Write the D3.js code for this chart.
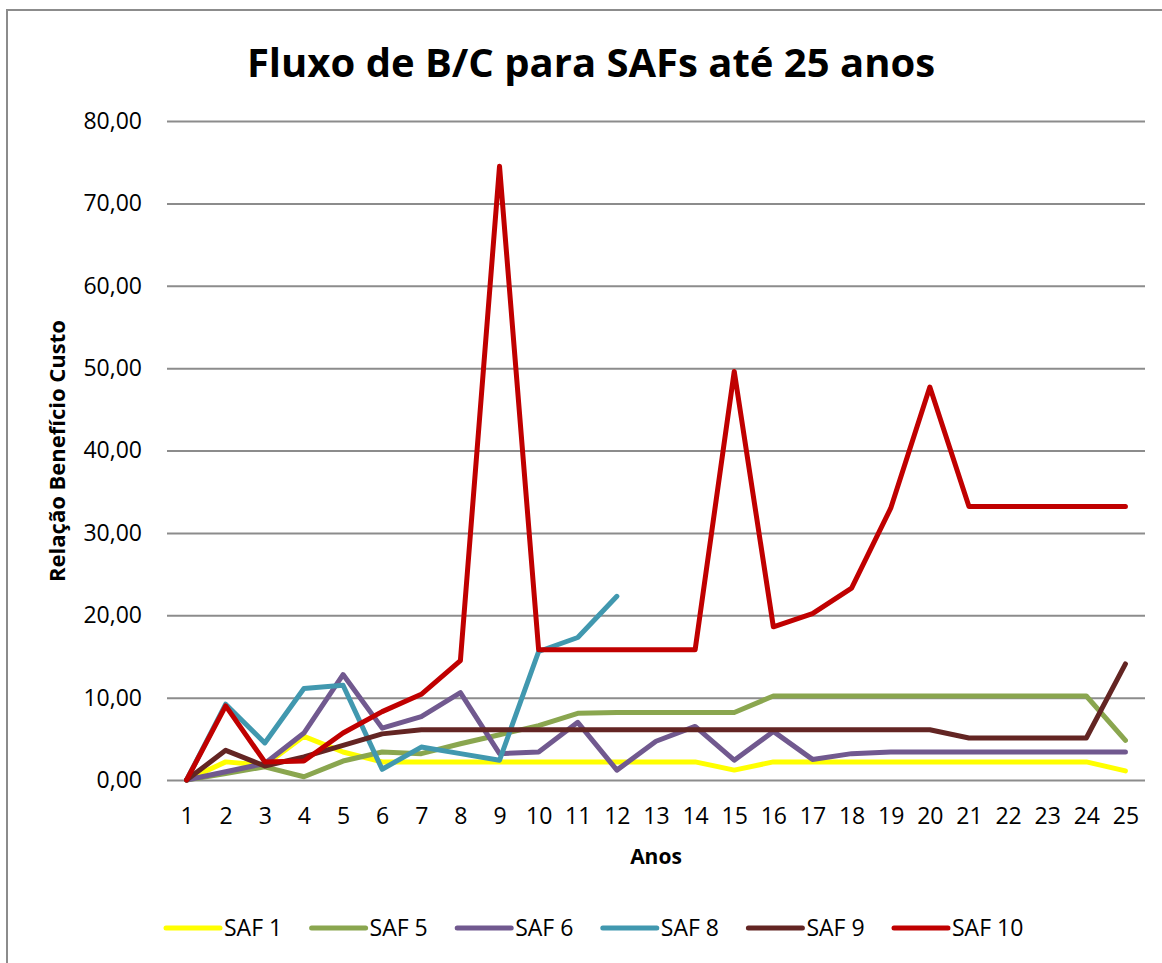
<!DOCTYPE html>
<html>
<head>
<meta charset="utf-8">
<script src="https://cdnjs.cloudflare.com/ajax/libs/d3/7.8.5/d3.min.js"></script>
<style>
  body { margin: 0; background: #fff; }
  text { font-family: "Open Sans", sans-serif; fill: #000; }
</style>
</head>
<body>
<div id="chart"></div>
<script>
// data
var anos = d3.range(1, 26);
var seriesNames = ["SAF 1", "SAF 5", "SAF 6", "SAF 8", "SAF 9", "SAF 10"];
var saf1 = [0, 2.2, 1.8, 5.3, 3.4, 2.2, 2.2, 2.2, 2.2, 2.2, 2.2, 2.2, 2.2, 2.2, 1.2, 2.2, 2.2, 2.2, 2.2, 2.2, 2.2, 2.2, 2.2, 2.2, 1.1];
var saf5 = [0, 0.8, 1.6, 0.4, 2.3, 3.4, 3.2, 4.4, 5.5, 6.6, 8.1, 8.2, 8.2, 8.2, 8.2, 10.2, 10.2, 10.2, 10.2, 10.2, 10.2, 10.2, 10.2, 10.2, 4.8];
var saf6 = [0, 1.0, 2.0, 5.7, 12.8, 6.3, 7.7, 10.6, 3.2, 3.4, 7.0, 1.2, 4.7, 6.5, 2.4, 5.9, 2.5, 3.2, 3.4, 3.4, 3.4, 3.4, 3.4, 3.4, 3.4];
var saf8 = [0, 9.2, 4.5, 11.1, 11.5, 1.3, 4.0, 3.2, 2.4, 15.6, 17.3, 22.3, null, null, null, null, null, null, null, null, null, null, null, null, null];
var saf9 = [0, 3.6, 1.7, 2.8, 4.2, 5.6, 6.1, 6.1, 6.1, 6.1, 6.1, 6.1, 6.1, 6.1, 6.1, 6.1, 6.1, 6.1, 6.1, 6.1, 5.1, 5.1, 5.1, 5.1, 14.1];
var saf10 = [0, 9.0, 2.2, 2.3, 5.7, 8.3, 10.4, 14.5, 74.5, 15.8, 15.8, 15.8, 15.8, 15.8, 49.6, 18.6, 20.2, 23.3, 33.0, 47.7, 33.2, 33.2, 33.2, 33.2, 33.2];
var yTicks = [0, 10, 20, 30, 40, 50, 60, 70, 80];

var seriesValues = [saf1, saf5, saf6, saf8, saf9, saf10];
var colors = ["#FFFF00", "#8AA64F", "#71598F", "#4198AF", "#632523", "#C00000"];

//svg container
var svgWidth = 1162;
var svgHeight = 963;

//plot area
var plot = { left: 167, right: 1145, top: 121, bottom: 780 };

var svg = d3.select("#chart")
  .append("svg")
  .attr("width", svgWidth)
  .attr("height", svgHeight);

//chart border (only left and top visible in the picture)
svg.append("rect")
  .attr("x", 7)
  .attr("y", 10)
  .attr("width", 1200)
  .attr("height", 1000)
  .attr("fill", "none")
  .attr("stroke", "#8c8c8c")
  .attr("stroke-width", 2);

//scales
var xScale = d3.scalePoint()
  .domain(anos)
  .range([plot.left, plot.right])
  .padding(0.5);

var yScale = d3.scaleLinear()
  .domain([0, 80])
  .range([plot.bottom, plot.top]);

var ptBR = d3.formatLocale({ decimal: ",", thousands: ".", grouping: [3], currency: ["R$", ""] });
var fmt = ptBR.format(".2f");

//gridlines + y labels
var leftAxis = d3.axisLeft(yScale)
  .tickValues(yTicks)
  .tickSize(-(plot.right - plot.left))
  .tickPadding(25)
  .tickFormat(fmt);

var yAxisG = svg.append("g")
  .attr("transform", `translate(${plot.left}, 0)`)
  .call(leftAxis);

yAxisG.select(".domain").remove();
yAxisG.selectAll(".tick line")
  .attr("stroke", "#8c8c8c")
  .attr("stroke-width", 2);
yAxisG.selectAll(".tick text")
  .attr("font-family", "Open Sans")
  .attr("font-size", 23)
  .attr("fill", "#000");

//x labels
var bottomAxis = d3.axisBottom(xScale)
  .tickSize(0)
  .tickPadding(28);

var xAxisG = svg.append("g")
  .attr("transform", `translate(0, ${plot.bottom})`)
  .call(bottomAxis);

xAxisG.select(".domain").remove();
xAxisG.selectAll(".tick text")
  .attr("font-family", "Open Sans")
  .attr("font-size", 23)
  .attr("fill", "#000");

//lines
var line = d3.line()
  .defined(d => d != null)
  .x((d, i) => xScale(anos[i]))
  .y(d => yScale(d));

svg.append("g")
  .selectAll("path")
  .data(seriesValues)
  .enter()
  .append("path")
  .attr("d", d => line(d))
  .attr("fill", "none")
  .attr("stroke", (d, i) => colors[i])
  .attr("stroke-width", 5)
  .attr("stroke-linejoin", "round")
  .attr("stroke-linecap", "round");

//title
svg.append("text")
  .attr("x", 591)
  .attr("y", 77)
  .attr("text-anchor", "middle")
  .attr("font-size", 40)
  .attr("font-weight", "bold")
  .text("Fluxo de B/C para SAFs até 25 anos");

//axes labels
svg.append("text")
  .attr("x", 656)
  .attr("y", 864)
  .attr("text-anchor", "middle")
  .attr("font-size", 21)
  .attr("font-weight", "bold")
  .text("Anos");

svg.append("text")
  .attr("transform", "translate(65, 451) rotate(-90)")
  .attr("text-anchor", "middle")
  .attr("font-size", 22)
  .attr("font-weight", "bold")
  .text("Relação Benefício Custo");

//legend
var legend = svg.append("g")
  .selectAll("g")
  .data(seriesNames)
  .enter()
  .append("g")
  .attr("transform", (d, i) => `translate(${166 + i * 145.6}, 928)`);

legend.append("line")
  .attr("x1", 0)
  .attr("x2", 54)
  .attr("stroke", (d, i) => colors[i])
  .attr("stroke-width", 5)
  .attr("stroke-linecap", "round");

legend.append("text")
  .attr("x", 58)
  .attr("y", 8)
  .attr("font-size", 23)
  .text(d => d);
</script>
</body>
</html>
